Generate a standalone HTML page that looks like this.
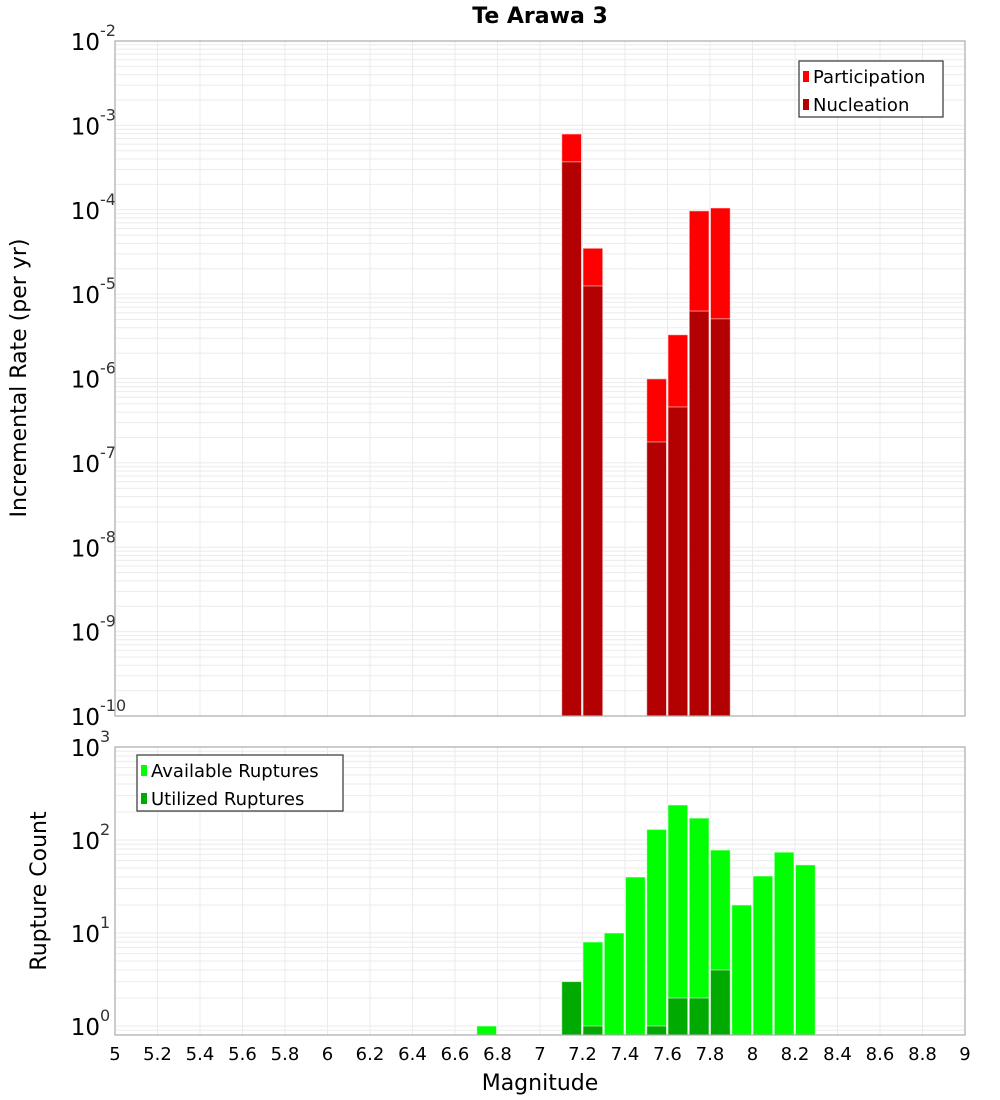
<!DOCTYPE html>
<html><head><meta charset="utf-8"><style>
html,body{margin:0;padding:0;background:#fff;}
svg{display:block;font-family:"Liberation Sans","DejaVu Sans",sans-serif;}
</style></head><body>
<svg id="chart" width="1000" height="1100" viewBox="0 0 1000 1100" xmlns="http://www.w3.org/2000/svg">
<text x="540" y="23" text-anchor="middle" font-size="22" font-weight="bold" font-family="DejaVu Sans, sans-serif">Te Arawa 3</text>
<g id="top"></g>
<g id="bottom"></g>
<text transform="translate(26,378) rotate(-90)" text-anchor="middle" font-size="22" font-family="DejaVu Sans, sans-serif">Incremental Rate (per yr)</text>
<text transform="translate(46,891) rotate(-90)" text-anchor="middle" font-size="22" font-family="DejaVu Sans, sans-serif">Rupture Count</text>
<text x="540" y="1090" text-anchor="middle" font-size="22" font-family="DejaVu Sans, sans-serif">Magnitude</text>
</svg>
<script>
// Top chart data
const rateBins = [7.1, 7.2, 7.5, 7.6, 7.7, 7.8];
const participation = [7.9e-4, 3.5e-5, 9.9e-7, 3.3e-6, 9.7e-5, 1.05e-4];
const nucleation = [3.7e-4, 1.25e-5, 1.77e-7, 4.6e-7, 6.3e-6, 5.1e-6];
// Bottom chart data
const countBins = [6.7, 7.1, 7.2, 7.3, 7.4, 7.5, 7.6, 7.7, 7.8, 7.9, 8.0, 8.1, 8.2];
const available = [1, 3, 8, 10, 40, 130, 238, 172, 78, 20, 41, 74, 54];
const utilized = [0, 3, 1, 0, 0, 1, 2, 2, 4, 0, 0, 0, 0];
const xTicks = ['5','5.2','5.4','5.6','5.8','6','6.2','6.4','6.6','6.8','7','7.2','7.4','7.6','7.8','8','8.2','8.4','8.6','8.8','9'];
const topExps = [-10,-9,-8,-7,-6,-5,-4,-3,-2];
const botExps = [0,1,2,3];

const NS = 'http://www.w3.org/2000/svg';
const X0 = 115, X1 = 965, XMIN = 5, XMAX = 9;
const xs = v => X0 + (v - XMIN) / (XMAX - XMIN) * (X1 - X0);
function mk(parent, tag, attrs) {
  const e = document.createElementNS(NS, tag);
  for (const k in attrs) e.setAttribute(k, attrs[k]);
  parent.appendChild(e);
  return e;
}
function panel(g, yTop, yBot, lmin, lmax, exps, name) {
  const ys = v => yBot - (Math.log10(v) - lmin) / (lmax - lmin) * (yBot - yTop);
  const bg = mk(g, 'rect', {x: X0, y: yTop, width: X1 - X0, height: yBot - yTop, fill: '#fff'});
  
  
  // horizontal grid
  for (let d = Math.floor(lmin); d < lmax; d++) {
    for (let m = 1; m < 10; m++) {
      const v = m * Math.pow(10, d);
      const lv = Math.log10(v);
      if (lv < lmin || lv > lmax) continue;
      const y = ys(v);
      const ln = mk(g, 'line', {x1: X0, x2: X1, y1: y, y2: y, stroke: '#ebebeb', 'stroke-width': 1});
      
      
    }
  }
  for (let i = 0; i < xTicks.length; i++) {
    const x = xs(parseFloat(xTicks[i]));
    const ln = mk(g, 'line', {x1: x, x2: x, y1: yTop, y2: yBot, stroke: '#ebebeb', 'stroke-width': 1});
    
    
  }
  // y tick labels
  for (const e of exps) {
    const y = ys(Math.pow(10, e));
    const t = mk(g, 'text', {x: 100, y: y + 9, 'text-anchor': 'end', 'font-size': 23, 'font-family': 'DejaVu Sans, sans-serif'});
    t.textContent = '10';
    
    
    const s = mk(g, 'text', {x: 100, y: y - 5, 'font-size': 16, fill: '#333', 'font-family': 'DejaVu Sans, sans-serif'});
    s.textContent = String(e);
    
    
  }
  return ys;
}
function bar(g, m, v, yBot, ys, fill, name) {
  const x = xs(m), w = xs(m + 0.1) - x;
  const y = ys(v);
  const r = mk(g, 'rect', {x: x + 0.5, y: y, width: w - 1.5, height: yBot - y, fill: fill, stroke: 'rgba(255,255,255,0.55)', 'stroke-width': 1});
  
  
}
function frame(g, yTop, yBot, name) {
  const f = mk(g, 'rect', {x: X0, y: yTop, width: X1 - X0, height: yBot - yTop, fill: 'none', stroke: '#aaa', 'stroke-width': 1.2});
  
  
}
function legend(g, x, y, w, items, name) {
  const box = mk(g, 'rect', {x: x, y: y, width: w, height: 56, fill: '#fff', stroke: '#333', 'stroke-width': 1.2});
  
  
  items.forEach((it, i) => {
    const sw = mk(g, 'rect', {x: x + 4, y: y + 10 + i * 28, width: 6, height: 11, fill: it[1]});
    
    
    const t = mk(g, 'text', {x: x + 14, y: y + 22 + i * 28, 'font-size': 18, 'font-family': 'DejaVu Sans, sans-serif'});
    t.textContent = it[0];
    
    
  });
}
// Top panel
const gt = document.getElementById('top');
const TT = 41, TB = 716;
const ysT = panel(gt, TT, TB, -10, -2, topExps, 'rate');
rateBins.forEach((m, i) => bar(gt, m, participation[i], TB, ysT, '#ff0000', 'participation-bar'));
rateBins.forEach((m, i) => bar(gt, m, nucleation[i], TB, ysT, '#b30000', 'nucleation-bar'));
frame(gt, TT, TB, 'rate');
legend(gt, 799, 61, 144, [['Participation', '#ff0000'], ['Nucleation', '#b30000']], 'rate-legend');
// Bottom panel
const gb = document.getElementById('bottom');
const BT = 747, BB = 1035;
const lminB = 3 - (BB - BT) / 93;
const ysB = panel(gb, BT, BB, lminB, 3, botExps, 'count');
countBins.forEach((m, i) => { if (available[i] > 0) bar(gb, m, available[i], BB, ysB, '#00ff00', 'available-bar'); });
countBins.forEach((m, i) => { if (utilized[i] > 0) bar(gb, m, utilized[i], BB, ysB, '#00aa00', 'utilized-bar'); });
frame(gb, BT, BB, 'count');
legend(gb, 137, 755, 206, [['Available Ruptures', '#00ff00'], ['Utilized Ruptures', '#00aa00']], 'count-legend');
// x tick labels
xTicks.forEach(t => {
  const e = mk(gb, 'text', {x: xs(parseFloat(t)), y: 1060, 'text-anchor': 'middle', 'font-size': 18, 'font-family': 'DejaVu Sans, sans-serif'});
  e.textContent = t;
  
  
});
</script>
</body></html>
